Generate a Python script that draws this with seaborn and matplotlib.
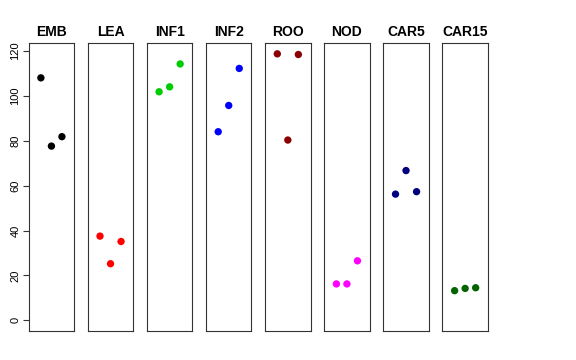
import matplotlib
matplotlib.use("Agg")
import matplotlib.pyplot as plt
import seaborn as sns
import pandas as pd

tissues = ["EMB", "LEA", "INF1", "INF2", "ROO", "NOD", "CAR5", "CAR15"]
colors = ["#000000", "#FF0000", "#00CD00", "#0000FF", "#8B0000", "#FF00FF", "#000080", "#006400"]
emb = [108.0, 77.6, 81.8]
lea = [37.5, 25.2, 35.1]
inf1 = [101.8, 104.0, 114.2]
inf2 = [84.0, 95.7, 112.2]
roo = [118.7, 80.3, 118.4]
nod = [16.2, 16.2, 26.5]
car5 = [56.2, 66.7, 57.3]
car15 = [13.2, 14.2, 14.5]
values = [emb, lea, inf1, inf2, roo, nod, car5, car15]
reps = [1, 2, 3]
yticks = [0, 20, 40, 60, 80, 100, 120]

rows = []
for t, vals in zip(tissues, values):
    for r, v in zip(reps, vals):
        rows.append({"tissue": t, "rep": r, "value": v})
df = pd.DataFrame(rows)

sns.set_style("white")
plt.rcParams["font.family"] = ["Liberation Sans", "DejaVu Sans"]
plt.rcParams["text.color"] = "black"
plt.rcParams["ytick.color"] = "black"
plt.rcParams["axes.labelcolor"] = "black"

fig, axes = plt.subplots(1, 8, figsize=(5.76, 3.6), dpi=100, sharey=True)
fig.subplots_adjust(left=0.0498, right=0.847, top=0.881, bottom=0.081, wspace=0.30)

for i, (ax, t, c) in enumerate(zip(axes, tissues, colors)):
    sub = df[df["tissue"] == t]
    sns.scatterplot(data=sub, x="rep", y="value", color=c, s=28, edgecolor="none", ax=ax, legend=False)
    ax.set_xlim(-0.16, 4.16)
    ax.set_ylim(-4.7, 123.6)
    ax.set_xticks([])
    ax.set_xlabel("")
    ax.set_ylabel("")
    ax.set_title(t, fontsize=10, fontweight="bold", pad=5, color="black")
    for sp in ax.spines.values():
        sp.set_visible(True)
        sp.set_color("#333333")
        sp.set_linewidth(0.8)
    if i == 0:
        ax.set_yticks(yticks)
        ax.tick_params(axis="y", left=True, length=4, width=0.8, color="#333333",
                       labelcolor="black", labelsize=8, pad=2)
        for lbl in ax.get_yticklabels():
            lbl.set_rotation(90)
            lbl.set_va("center")
    else:
        ax.tick_params(axis="y", left=False, labelleft=False)

fig.savefig("out.png", dpi=100, facecolor="white")
